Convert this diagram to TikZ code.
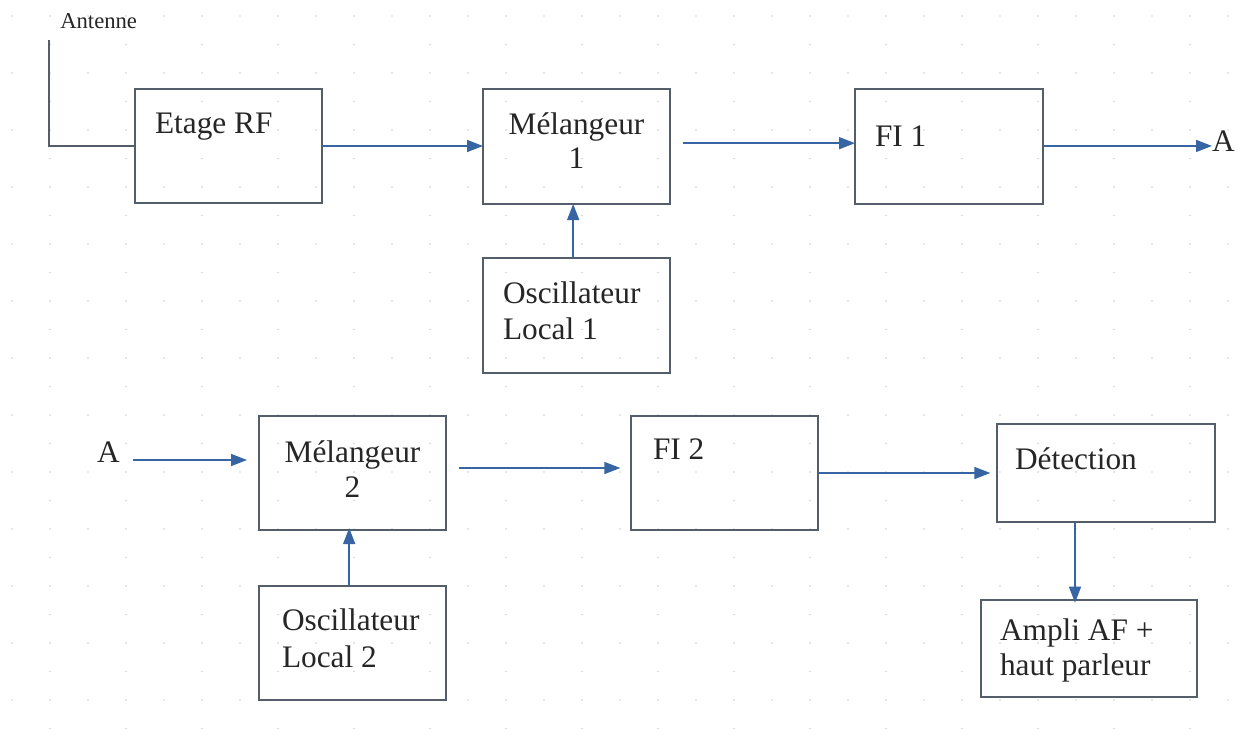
\documentclass[tikz,border=0pt]{standalone}
\usepackage{fontspec}
\setmainfont{Liberation Serif}
\usetikzlibrary{arrows.meta}
\definecolor{boxcol}{RGB}{84,94,106}
\definecolor{arrcol}{RGB}{55,100,162}
\definecolor{dotcol}{RGB}{205,208,212}
\tikzset{
  box/.style={draw=boxcol, line width=1.3pt, rectangle, inner sep=0pt, outer sep=0pt},
  arr/.style={draw=arrcol, line width=1.1pt, -{Triangle[length=12pt,width=9pt]}},
  lbl/.style={inner sep=0pt, outer sep=0pt, anchor=base west, font=\fontsize{23.5}{27}\selectfont, text=black!85},
  clbl/.style={lbl, anchor=base},
  small/.style={inner sep=0pt, anchor=base west, font=\fontsize{17}{20}\selectfont, text=black!85}
}
\begin{document}
\begin{tikzpicture}[x=0.75pt,y=-0.75pt]
\useasboundingbox (0,0) rectangle (1244,753);
\fill[white] (0,0) rectangle (1244,753);
% faint dot grid
\foreach \r in {0,...,13}{
  \foreach \c in {0,...,32}{
    \fill[dotcol] (\c*38+12,\r*57+16) circle (0.9);
  }
  \foreach \c in {0,...,16}{
    \fill[dotcol] (\c*76+50,\r*57+44.5) circle (0.9);
  }
}
% boxes
\node[box, minimum width=140.25pt, minimum height=85.5pt] (rf) at (228.5,146) {};
\node[box, minimum width=140.25pt, minimum height=86.25pt] (m1) at (576.5,146.5) {};
\node[box, minimum width=140.25pt, minimum height=86.25pt] (o1) at (576.5,315.5) {};
\node[box, minimum width=141pt, minimum height=86.25pt] (fi1) at (949,146.5) {};
\node[box, minimum width=140.25pt, minimum height=85.5pt] (m2) at (352.5,473) {};
\node[box, minimum width=140.25pt, minimum height=85.5pt] (o2) at (352.5,643) {};
\node[box, minimum width=140.25pt, minimum height=85.5pt] (fi2) at (724.5,473) {};
\node[box, minimum width=163.5pt, minimum height=73.5pt] (det) at (1106,473) {};
\node[box, minimum width=162pt, minimum height=72.75pt] (amp) at (1089,648.5) {};
% texts
\node[small] (antt) at (60,28) {Antenne};
\node[lbl] (rft) at (155,133) {Etage RF};
\node[clbl] (m1a) at (576.5,134) {Mélangeur};
\node[clbl] (m1b) at (576.5,168) {1};
\node[lbl] (o1a) at (503,303) {Oscillateur};
\node[lbl] (o1b) at (503,339) {Local 1};
\node[lbl] (fi1t) at (875,146) {FI 1};
\node[lbl] (aout) at (1212,151) {A};
\node[lbl] (ain) at (97,462) {A};
\node[clbl] (m2a) at (352.5,462) {Mélangeur};
\node[clbl] (m2b) at (352.5,497) {2};
\node[lbl] (o2a) at (282,630) {Oscillateur};
\node[lbl] (o2b) at (282,667) {Local 2};
\node[lbl] (fi2t) at (653,459) {FI 2};
\node[lbl] (dett) at (1015,469) {Détection};
\node[lbl] (ampa) at (1000,640) {Ampli AF +};
\node[lbl] (ampb) at (1000,675) {haut parleur};
% antenna
\coordinate (ant) at (49,40);
\draw[boxcol, line width=1.2pt] (ant) |- (rf.west);
% connectors
\draw[arr] (rf.east) -- (rf.east -| m1.west);
\draw[arr] ([xshift=9.75pt,yshift=2.5pt]m1.east) -- ([yshift=2.5pt]fi1.west);
\draw[arr] ([yshift=0.4pt]fi1.east) -- ([yshift=0.4pt]fi1.east -| aout.west);
\draw[arr] ([xshift=27pt]ain.base west |- 0,460) -- ([xshift=-9pt]m2.west |- 0,460);
\draw[arr] ([xshift=9.75pt,yshift=3.75pt]m2.east) -- ([xshift=-8pt,yshift=3.75pt]fi2.west);
\draw[arr] (fi2.east) -- ([xshift=-5pt]det.west);
\draw[arr] ([xshift=-23.25pt]det.south) -- ([xshift=-10.5pt,yshift=-2pt]amp.north);
\draw[arr] ([xshift=-2.5pt]o1.north) -- ([xshift=-2.5pt]m1.south);
\draw[arr] ([xshift=-2.5pt]o2.north) -- ([xshift=-2.5pt,yshift=1.5pt]m2.south);
\end{tikzpicture}
\end{document}
